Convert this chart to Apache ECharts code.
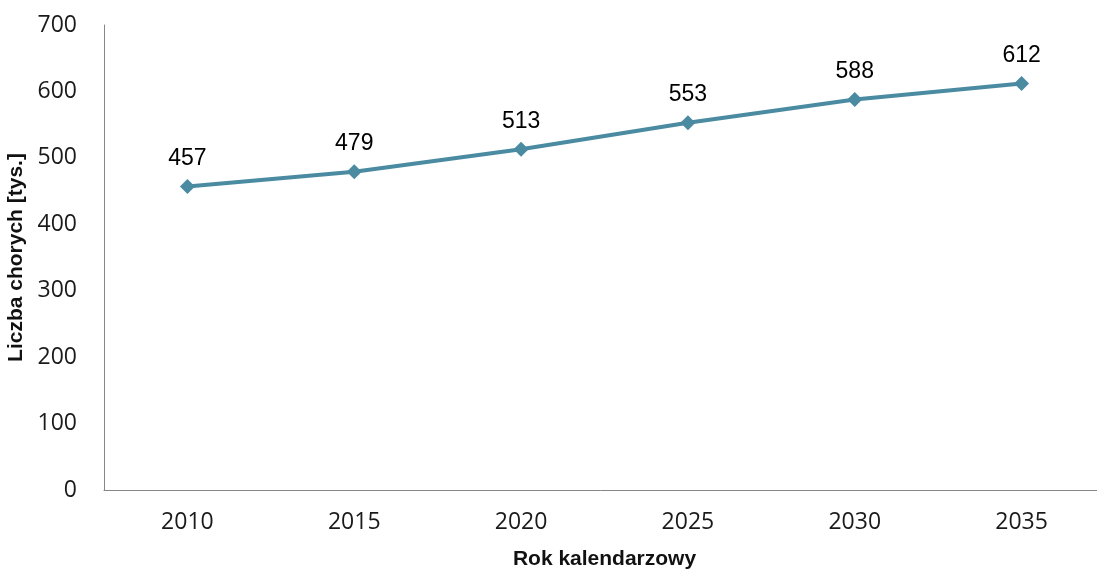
<!DOCTYPE html>
<html><head><meta charset="utf-8">
<script src="https://cdn.jsdelivr.net/npm/echarts@6/dist/echarts.min.js"></script>
<style>html,body{margin:0;padding:0;background:#fff;overflow:hidden}#c{width:1097px;height:572px}</style>
</head><body><div id="c"></div>
<script>
const categories = ['2010','2015','2020','2025','2030','2035'];
const values = [457, 479, 513, 553, 588, 612];
const yTicks = { min: 0, max: 700, interval: 100 };
const xTitle = 'Rok kalendarzowy';
const yTitle = 'Liczba chorych [tys.]';

const chart = echarts.init(document.getElementById('c'));
chart.setOption({
  animation: false,
  grid: { left: 104, top: 25, width: 1001, height: 465, containLabel: false, outerBoundsMode: 'none' },
  xAxis: {
    type: 'category', data: categories, boundaryGap: true,
    axisLine: { lineStyle: { color: '#868686', width: 1 } },
    axisTick: { show: false },
    axisLabel: { color: '#1a1a1a', fontFamily: 'Open Sans', fontSize: 23, margin: 21 },
    name: xTitle, nameLocation: 'middle', nameGap: 59,
    nameTextStyle: { fontFamily: 'Liberation Sans', fontWeight: 'bold', fontSize: 21, color: '#111' }
  },
  yAxis: {
    type: 'value', min: yTicks.min, max: yTicks.max, interval: yTicks.interval,
    axisLine: { show: true, lineStyle: { color: '#868686', width: 1 } },
    axisTick: { show: false },
    splitLine: { show: false },
    axisLabel: { color: '#1a1a1a', fontFamily: 'Open Sans', fontSize: 23, margin: 27 },
    name: yTitle, nameLocation: 'middle', nameGap: 75, nameRotate: 90,
    nameTextStyle: { fontFamily: 'Liberation Sans', fontWeight: 'bold', fontSize: 21, color: '#111' }
  },
  series: [{
    type: 'line', data: values,
    symbol: 'diamond', symbolSize: 15,
    lineStyle: { color: '#4a8ba2', width: 4 },
    itemStyle: { color: '#4a8ba2' },
    label: { show: true, position: 'top', distance: 9, color: '#000', fontFamily: 'Liberation Sans', fontSize: 23 }
  }]
});
</script></body></html>
